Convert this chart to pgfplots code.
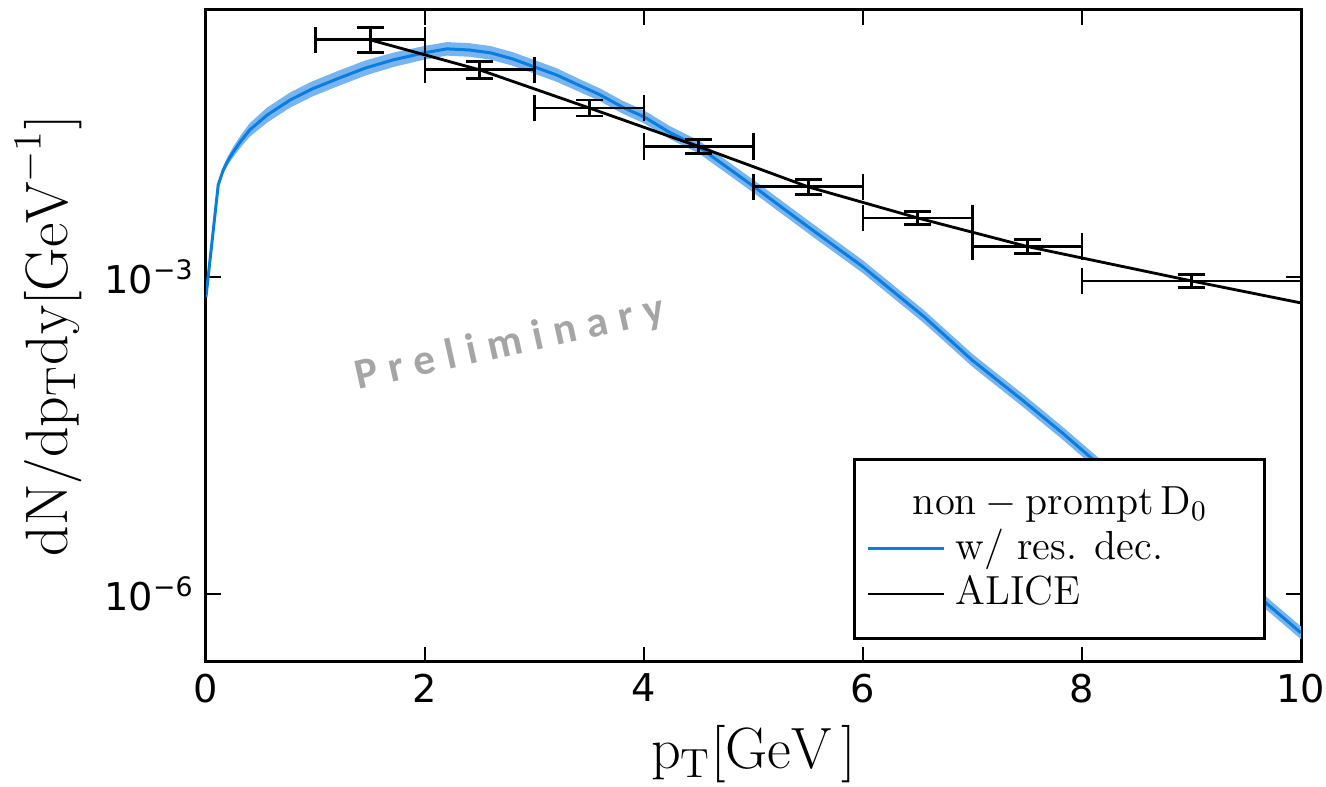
\documentclass[border=0pt]{standalone}
\usepackage{pgfplots}
\pgfplotsset{compat=1.18}
\usepackage{pgfplotstable}
\usepgfplotslibrary{fillbetween}
\usepackage{fontspec}
\newfontfamily\tickfont{DejaVu Sans}
\newfontfamily\wmfont[LetterSpace=25]{Carlito}
\definecolor{lineblue}{RGB}{10,125,225}
\definecolor{bandblue}{RGB}{120,180,238}
\definecolor{wmgray}{RGB}{165,165,165}

\pgfplotstableread{
x c up lo
0 6.47e-4 6.79e-4 6.16e-4
0.112 7.43e-3 7.88e-3 7.01e-3
0.158 1.03e-2 1.112e-2 9.54e-3
0.204 1.28e-2 1.408e-2 1.164e-2
0.249 1.52e-2 1.702e-2 1.357e-2
0.32 1.94e-2 2.21e-2 1.70e-2
0.40 2.46e-2 2.85e-2 2.12e-2
0.56 3.41e-2 4.02e-2 2.89e-2
0.77 4.73e-2 5.58e-2 4.01e-2
0.97 6.01e-2 7.09e-2 5.09e-2
1.22 7.64e-2 9.02e-2 6.47e-2
1.46 9.51e-2 0.1122 0.0806
1.71 0.1132 0.1324 0.0968
1.99 0.1318 0.1529 0.1136
2.2 0.1439 0.1669 0.1241
2.4 0.1406 0.1631 0.1212
2.6 0.1318 0.1529 0.1136
2.8 0.1156 0.1341 0.0997
3.0 0.0971 0.1126 0.0837
3.2 0.0816 0.0947 0.0703
3.4 0.0656 0.0754 0.0570
3.6 0.0528 0.0607 0.0459
3.8 0.0406 0.0467 0.0353
4.0 0.0327 0.0376 0.0284
4.24 0.0231 0.0266 0.0201
4.5 0.0170 0.01955 0.01478
5.0 7.2e-3 8.28e-3 6.26e-3
5.5 2.97e-3 3.42e-3 2.58e-3
6.0 1.245e-3 1.432e-3 1.083e-3
6.56 4.18e-4 4.81e-4 3.63e-4
7.0 1.62e-4 1.863e-4 1.409e-4
7.45 6.9e-5 7.94e-5 6.00e-5
7.82 3.34e-5 3.84e-5 2.90e-5
8.18 1.59e-5 1.829e-5 1.383e-5
9.0 3.1e-6 3.57e-6 2.70e-6
9.68 8.22e-7 9.45e-7 7.15e-7
10 4.28e-7 4.92e-7 3.72e-7
}\theory

\pgfplotstableread{
x y
1.5 0.175
2.5 0.091
3.5 0.0397
4.5 0.0171
5.5 0.00711
6.5 0.00361
7.5 0.00194
9 0.000916
10 0.000567
}\alicefit

\begin{document}
\begin{tikzpicture}
\begin{axis}[
  name=ax,
  scale only axis,
  width=11.563cm, height=6.885cm,
  ymode=log,
  xmin=0, xmax=10,
  ymin=2.27e-7, ymax=0.336,
  xtick={0,2,4,6,8,10},
  ytick={1e-6,1e-3},
  yticklabels={{10\textsuperscript{−6}},{10\textsuperscript{−3}}},
  yminorticks=false,
  xminorticks=false,
  axis line style={line width=0.9pt},
  tick style={black, line width=0.75pt},
  major tick length=4.5pt,
  tick align=inside,
  /pgf/number format/assume math mode=true,
  tick label style={font=\fontsize{11.5}{13}\tickfont},
  xlabel={$\mathrm{p_T}[\mathrm{GeV}\,]$},
  ylabel={$\mathrm{dN/dp_T dy}[\mathrm{GeV}^{-1}]$},
  xlabel style={font=\fontsize{17.5}{20}\selectfont},
  ylabel style={font=\fontsize{18}{20}\selectfont},
  legend cell align=left,
  legend style={at={(0.968,0.034)}, anchor=south east, draw=black,
    line width=0.9pt, font=\fontsize{12.2}{14}\selectfont,
    inner xsep=3.6pt, inner ysep=6.5pt,
    nodes={inner sep=1pt, text height=9pt, text depth=2.6pt}},
  legend image code/.code={\draw[#1] (0cm,0cm) -- (0.8cm,0cm); \path (0.87cm,0cm);},
]
\addplot[name path=up, draw=none, forget plot] table[x=x,y=up]{\theory};
\addplot[name path=lo, draw=none, forget plot] table[x=x,y=lo]{\theory};
\addplot[bandblue, forget plot] fill between[of=up and lo];
\addplot[lineblue, line width=0.9pt, line join=round, forget plot] table[x=x,y=c]{\theory};

\addplot[black, line width=0.85pt, forget plot] table[x=x,y=y]{\alicefit};
\addplot[draw=none, mark=none, forget plot,
  error bars/.cd, x dir=both, x explicit, y dir=both, y explicit,
  error mark=-,
  error mark options={rotate=90, draw=black, mark size=4pt, line width=0.85pt},
  error bar style={draw=black, line width=0.85pt}]
  coordinates {
  (1.5,0.175) += (0.5,0.0523) -= (0.5,0.0432)
  (2.5,0.091) += (0.5,0.0185) -= (0.5,0.0154)
  (3.5,0.0397) += (0.5,0.00755) -= (0.5,0.00634)
  (4.5,0.0171) += (0.5,0.00283) -= (0.5,0.00243)
  (5.5,0.00711) += (0.5,0.00126) -= (0.5,0.00107)
  (6.5,0.00361) += (0.5,0.00055) -= (0.5,0.00048)
  (7.5,0.00194) += (0.5,0.00032) -= (0.5,0.000275)
  (9,0.000916) += (1,0.000139) -= (1,0.000121)
  };

\addlegendimage{empty legend}
\addlegendentry{\makebox[3.1cm][l]{\hspace*{-0.45cm}$\mathrm{non-prompt\,D_0}$}}
\addlegendimage{lineblue, line width=1pt}
\addlegendentry{w/ res. dec.}
\addlegendimage{black, line width=0.85pt}
\addlegendentry{ALICE}

\node[rotate=12.5, text=wmgray, font=\fontsize{13}{15}\wmfont\bfseries]
  at (axis description cs:0.278,0.488) {Preliminary};
\end{axis}
\pgfresetboundingbox
\path (ax.south west) +(-2.175cm,6.990cm) rectangle +(11.827cm,-1.320cm);
\end{tikzpicture}
\end{document}
